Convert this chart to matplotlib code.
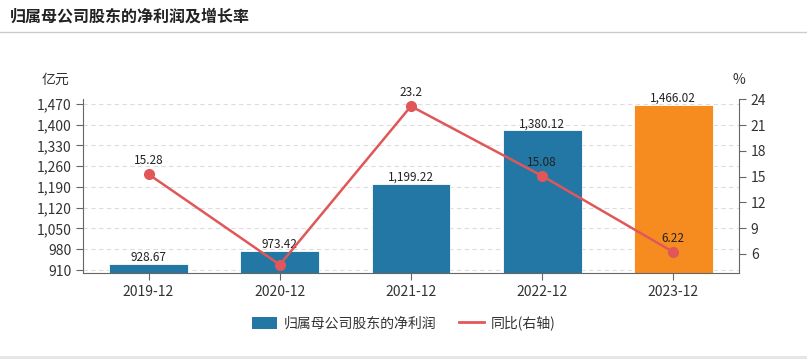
import matplotlib.pyplot as plt
from matplotlib.lines import Line2D
from matplotlib.patches import Patch, Rectangle

plt.rcParams['font.family'] = ['Noto Sans CJK SC', 'DejaVu Sans']

# 数据
years = ['2019-12', '2020-12', '2021-12', '2022-12', '2023-12']
profit = [928.67, 973.42, 1199.22, 1380.12, 1466.02]
growth = [15.28, 4.75, 23.2, 15.08, 6.22]
growth_labels = ['15.28', '', '23.2', '15.08', '6.22']
left_ticks = [910, 980, 1050, 1120, 1190, 1260, 1330, 1400, 1470]
right_ticks = [6, 9, 12, 15, 18, 21, 24]

BLUE = '#2277a4'
ORANGE = '#f68b1f'
RED = '#e15759'
TXT = '#333333'

fig = plt.figure(figsize=(8.07, 3.59), dpi=100)
ax1 = fig.add_axes([0.1028, 0.2387, 0.8129, 0.4847])
ax2 = ax1.twinx()

x = list(range(len(years)))
colors = [BLUE] * 4 + [ORANGE]
ax1.bar(x, profit, width=0.6, color=colors, edgecolor='#ffffff', linewidth=0.6, zorder=2)
for xi, v in zip(x, profit):
    ax1.text(xi, v + 1, f'{v:,.2f}', ha='center', va='bottom', fontsize=8.5, color='#222222', zorder=5)

ax1.set_ylim(899, 1485)
ax1.set_yticks(left_ticks)
ax1.set_yticklabels([f'{t:,}' for t in left_ticks])
ax1.set_xlim(-0.5, 4.5)
ax1.set_xticks(x)
ax1.set_xticklabels(years)
ax1.grid(axis='y', linestyle=(0, (4, 3)), color='#dddddd', linewidth=0.8, zorder=0)
ax1.set_axisbelow(True)

ax2.plot(x, growth, color=RED, linewidth=1.8, marker='o', markersize=7, zorder=4)
for xi, v, lab in zip(x, growth, growth_labels):
    if lab:
        ax2.text(xi, v + 0.8, lab, ha='center', va='bottom', fontsize=8.5, color='#222222', zorder=5)
ax2.set_ylim(3.75, 24)
ax2.set_yticks(right_ticks)

for ax in (ax1, ax2):
    ax.spines['top'].set_visible(False)
    for s in ('left', 'right', 'bottom'):
        ax.spines[s].set_color('#666666')
    ax.tick_params(colors='#666666', labelcolor=TXT, labelsize=10, length=5)
ax1.spines['right'].set_visible(False)
ax2.spines['left'].set_visible(False)
ax2.spines['bottom'].set_visible(False)

ax1.text(-0.02, 1.07, '亿元', transform=ax1.transAxes, ha='right', va='bottom', fontsize=10, color=TXT)
ax2.text(1.0, 1.07, '%', transform=ax2.transAxes, ha='center', va='bottom', fontsize=10, color=TXT)

fig.text(0.012, 0.953, '归属母公司股东的净利润及增长率', ha='left', va='center', fontsize=11.5,
         fontweight='bold', color='#222222')
fig.add_artist(Line2D([0, 1], [0.911, 0.911], transform=fig.transFigure, color='#cccccc', linewidth=1))
fig.add_artist(Rectangle((0, 0), 1, 0.009, transform=fig.transFigure, color='#e6e6e6', linewidth=0))

handles = [Patch(facecolor=BLUE, label='归属母公司股东的净利润'),
           Line2D([], [], color=RED, linewidth=2, label='同比(右轴)')]
fig.legend(handles=handles, loc='center', bbox_to_anchor=(0.5, 0.1), ncol=2, frameon=False,
           fontsize=10, handlelength=1.8, handleheight=0.9, handletextpad=0.5,
           columnspacing=1.6, labelcolor=TXT)

fig.savefig('out.png', dpi=100)
